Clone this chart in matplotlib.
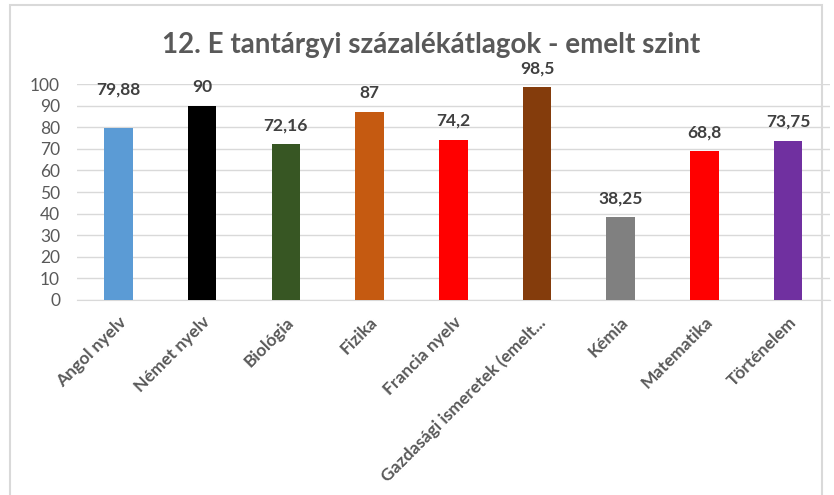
import matplotlib.pyplot as plt
import numpy as np

subjects = ['Angol nyelv', 'Német nyelv', 'Biológia', 'Fizika', 'Francia nyelv',
            'Gazdasági ismeretek (emelt...', 'Kémia', 'Matematika', 'Történelem']
values = [79.88, 90, 72.16, 87, 74.2, 98.5, 38.25, 68.8, 73.75]
value_labels = ['79,88', '90', '72,16', '87', '74,2', '98,5', '38,25', '68,8', '73,75']
colors = ['#5B9BD5', '#000000', '#375623', '#C55A11', '#FF0000',
          '#843C0C', '#808080', '#FF0000', '#7030A0']

plt.rcParams['font.family'] = ['Lato', 'DejaVu Sans']

fig = plt.figure(figsize=(8.34, 4.95), dpi=100)
ax = fig.add_axes([0.092, 0.394, 0.903, 0.436])

x = np.arange(len(subjects))
ax.bar(x, values, width=0.34, color=colors, zorder=3)

# value labels (the first one sits higher in the original)
for i, (v, t) in enumerate(zip(values, value_labels)):
    off = 22 if i == 0 else 8
    ax.annotate(t, (i, v), xytext=(0, off), textcoords='offset points',
                ha='center', va='bottom', fontsize=12.5, fontweight='bold',
                color='#404040')

ax.set_xlim(-0.5, len(subjects) - 0.5)
ax.set_ylim(0, 100)
ax.set_yticks(np.arange(0, 101, 10))
ax.yaxis.grid(True, color='#D9D9D9', linewidth=1, zorder=0)
ax.tick_params(axis='both', length=0, colors='#595959')
ax.tick_params(axis='y', labelsize=12.5, pad=12)
ax.set_xticks(x)
ax.set_xticklabels(subjects, rotation=45, ha='right', rotation_mode='anchor',
                   fontsize=12.5, fontweight='bold', color='#595959')
ax.tick_params(axis='x', pad=10)
for s in ['top', 'right', 'left']:
    ax.spines[s].set_visible(False)
ax.spines['bottom'].set_color('#D9D9D9')

fig.text(0.517, 0.91, '12. E tantárgyi százalékátlagok - emelt szint',
         ha='center', va='center', fontsize=20, fontweight='bold', color='#595959')

# chart frame
frame = plt.Rectangle((0.012, -0.1), 0.974, 1.09, transform=fig.transFigure,
                      fill=False, edgecolor='#D9D9D9', linewidth=1.5)
fig.patches.append(frame)

fig.savefig('out.png', dpi=100)
